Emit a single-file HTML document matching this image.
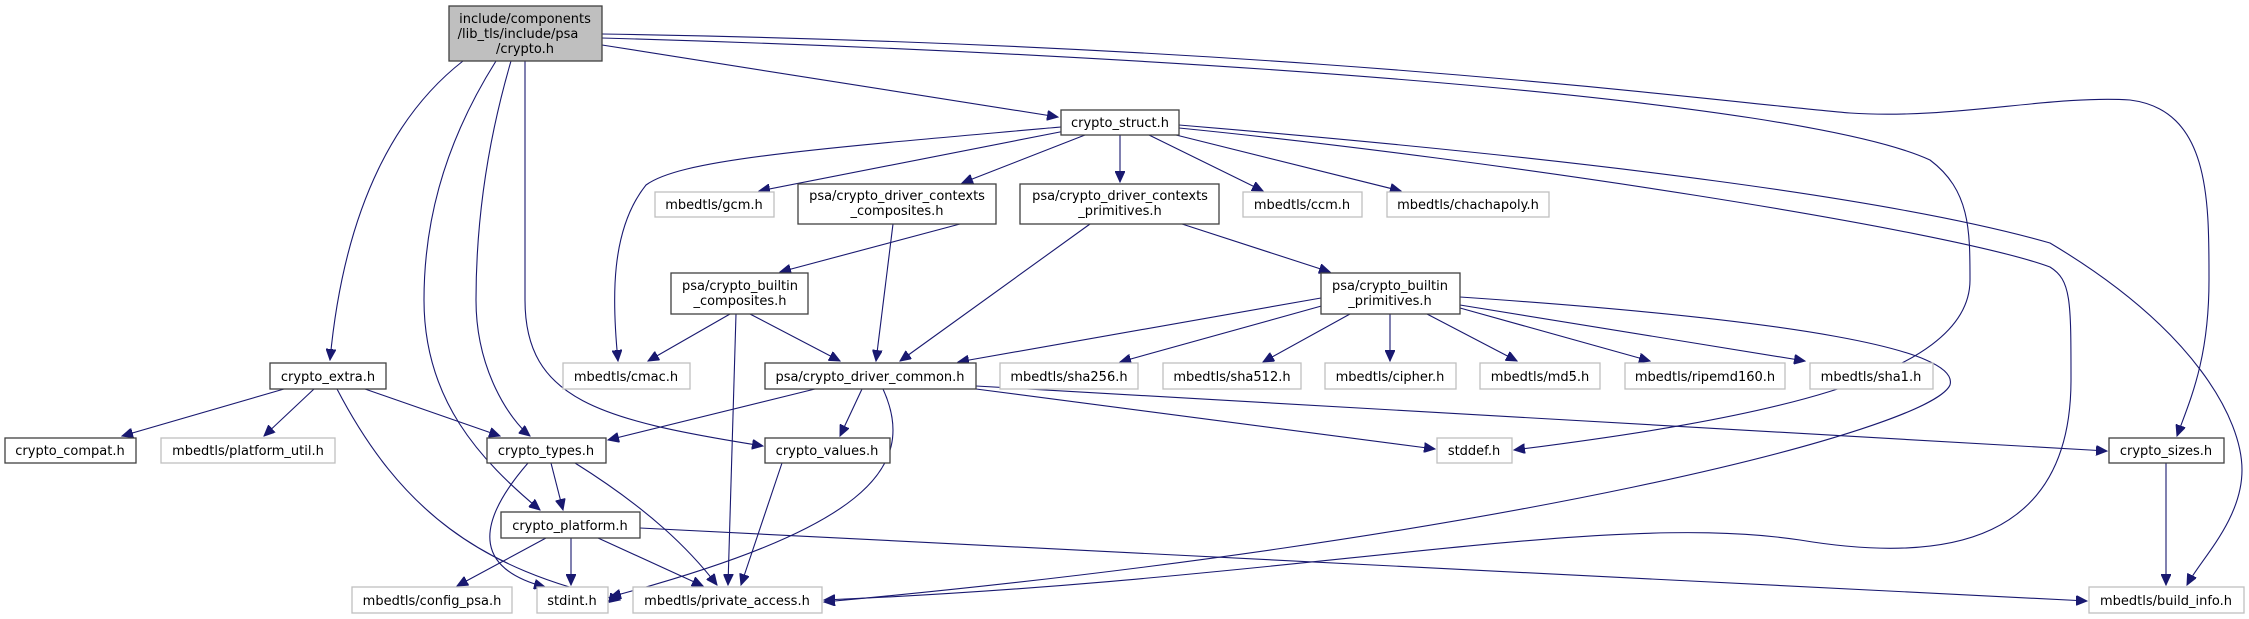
<!DOCTYPE html>
<html><head><meta charset="utf-8"><style>
html,body{margin:0;padding:0;background:#fff;}
svg{display:block}
text{font-family:"DejaVu Sans","Liberation Sans",sans-serif;font-size:13px;fill:#000;text-anchor:middle}
.n{fill:#fff;stroke:#404040;stroke-width:1.3}
.g{fill:#fff;stroke:#bfbfbf;stroke-width:1.3}
.e path{fill:none;stroke:#191970;stroke-width:1.1}
</style></head><body>
<svg width="2249" height="619" viewBox="0 0 2249 619" xmlns="http://www.w3.org/2000/svg">
<defs><marker id="a" markerUnits="userSpaceOnUse" markerWidth="12" markerHeight="10" refX="11" refY="5" orient="auto"><path d="M0,0 L11,5 L0,10 z" fill="#191970" stroke="#191970"/></marker></defs>
<g class="e">
<path marker-end="url(#a)" d="M463,61 C400,110 345,200 330,360"/>
<path marker-end="url(#a)" d="M496,61 C440,150 424,230 424,300 C424,400 480,460 540,510"/>
<path marker-end="url(#a)" d="M511,61 C485,150 476,230 476,300 C476,370 510,420 530,436"/>
<path marker-end="url(#a)" d="M525,61 L525,300 C525,400 600,420 763,446"/>
<path marker-end="url(#a)" d="M602,45 L1058,117"/>
<path marker-end="url(#a)" d="M602,38 C1200,55 1800,100 1930,160 C1970,190 1970,230 1970,280 C1970,380 1750,420 1514,450"/>
<path marker-end="url(#a)" d="M602,34 C1300,45 1700,100 1850,113 C1950,120 2050,95 2130,100 C2210,110 2209,200 2209,280 C2209,360 2190,400 2177,436"/>
<path marker-end="url(#a)" d="M1061,127 C800,150 680,160 646,185 C610,230 612,300 618,361"/>
<path marker-end="url(#a)" d="M1065,131 L759,191"/>
<path marker-end="url(#a)" d="M1085,135 L962,183"/>
<path marker-end="url(#a)" d="M1120,135 L1120,182"/>
<path marker-end="url(#a)" d="M1149,135 L1263,191"/>
<path marker-end="url(#a)" d="M1176,135 L1401,191"/>
<path marker-end="url(#a)" d="M1179,128 C1500,160 1950,230 2050,267 C2071,280 2071,300 2071,380 C2071,540 1950,565 1800,540 C1600,510 1300,580 824,600"/>
<path marker-end="url(#a)" d="M1179,125 C1600,160 1900,200 2050,243 C2196,330 2242,420 2242,470 C2242,520 2200,560 2187,585"/>
<path marker-end="url(#a)" d="M960,224 L780,272"/>
<path marker-end="url(#a)" d="M893,224 L876,361"/>
<path marker-end="url(#a)" d="M1090,224 L900,361"/>
<path marker-end="url(#a)" d="M1182,224 L1330,272"/>
<path marker-end="url(#a)" d="M730,314 L648,361"/>
<path marker-end="url(#a)" d="M750,314 L840,361"/>
<path marker-end="url(#a)" d="M736,314 L728,585"/>
<path marker-end="url(#a)" d="M1321,298 L958,362"/>
<path marker-end="url(#a)" d="M1325,305 L1120,362"/>
<path marker-end="url(#a)" d="M1350,314 L1263,362"/>
<path marker-end="url(#a)" d="M1390,314 L1390,361"/>
<path marker-end="url(#a)" d="M1427,314 L1517,361"/>
<path marker-end="url(#a)" d="M1460,308 L1650,361"/>
<path marker-end="url(#a)" d="M1460,305 L1805,361"/>
<path marker-end="url(#a)" d="M1460,297 C1800,320 1960,350 1950,385 C1930,430 1500,540 824,602"/>
<path marker-end="url(#a)" d="M815,389 L608,440"/>
<path marker-end="url(#a)" d="M862,389 L840,436"/>
<path marker-end="url(#a)" d="M883,389 C920,470 860,530 610,597"/>
<path marker-end="url(#a)" d="M976,389 L1435,449"/>
<path marker-end="url(#a)" d="M976,386 L2107,451"/>
<path marker-end="url(#a)" d="M284,389 L122,436"/>
<path marker-end="url(#a)" d="M314,389 L264,436"/>
<path marker-end="url(#a)" d="M365,389 L500,436"/>
<path marker-end="url(#a)" d="M337,389 C400,510 480,570 620,600"/>
<path marker-end="url(#a)" d="M528,463 C470,530 480,570 545,587"/>
<path marker-end="url(#a)" d="M551,463 L563,510"/>
<path marker-end="url(#a)" d="M575,463 C650,510 690,550 717,585"/>
<path marker-end="url(#a)" d="M546,538 L457,586"/>
<path marker-end="url(#a)" d="M571,538 L571,585"/>
<path marker-end="url(#a)" d="M598,538 L703,586"/>
<path marker-end="url(#a)" d="M640,528 L2087,601"/>
<path marker-end="url(#a)" d="M782,463 L741,585"/>
<path marker-end="url(#a)" d="M2166,463 L2166,585"/>
</g>
<rect x="449" y="6" width="153" height="55" fill="#bfbfbf" stroke="#404040" stroke-width="1.3"/>
<text x="525" y="23">include/components</text><text x="518" y="38">/lib_tls/include/psa</text><text x="525" y="53">/crypto.h</text>

<rect class="n" x="1061" y="110" width="118" height="25"/><text x="1120" y="127">crypto_struct.h</text>
<rect class="g" x="655" y="192" width="119" height="25"/><text x="714" y="209">mbedtls/gcm.h</text>
<rect class="n" x="798" y="184" width="198" height="40"/><text x="897" y="200">psa/crypto_driver_contexts</text><text x="897" y="215">_composites.h</text>
<rect class="n" x="1020" y="184" width="199" height="40"/><text x="1120" y="200">psa/crypto_driver_contexts</text><text x="1120" y="215">_primitives.h</text>
<rect class="g" x="1243" y="192" width="119" height="25"/><text x="1302" y="209">mbedtls/ccm.h</text>
<rect class="g" x="1387" y="192" width="162" height="25"/><text x="1468" y="209">mbedtls/chachapoly.h</text>

<rect class="n" x="671" y="273" width="137" height="41"/><text x="740" y="290">psa/crypto_builtin</text><text x="740" y="305">_composites.h</text>
<rect class="n" x="1321" y="273" width="139" height="41"/><text x="1390" y="290">psa/crypto_builtin</text><text x="1390" y="305">_primitives.h</text>

<rect class="n" x="270" y="363" width="116" height="26"/><text x="328" y="381">crypto_extra.h</text>
<rect class="g" x="563" y="363" width="127" height="26"/><text x="626" y="381">mbedtls/cmac.h</text>
<rect class="n" x="765" y="363" width="211" height="26"/><text x="870" y="381">psa/crypto_driver_common.h</text>
<rect class="g" x="1000" y="363" width="138" height="26"/><text x="1069" y="381">mbedtls/sha256.h</text>
<rect class="g" x="1163" y="363" width="138" height="26"/><text x="1232" y="381">mbedtls/sha512.h</text>
<rect class="g" x="1325" y="363" width="131" height="26"/><text x="1390" y="381">mbedtls/cipher.h</text>
<rect class="g" x="1480" y="363" width="120" height="26"/><text x="1540" y="381">mbedtls/md5.h</text>
<rect class="g" x="1625" y="363" width="160" height="26"/><text x="1705" y="381">mbedtls/ripemd160.h</text>
<rect class="g" x="1810" y="363" width="123" height="26"/><text x="1871" y="381">mbedtls/sha1.h</text>

<rect class="n" x="5" y="438" width="131" height="25"/><text x="70" y="455">crypto_compat.h</text>
<rect class="g" x="161" y="438" width="174" height="25"/><text x="248" y="455">mbedtls/platform_util.h</text>
<rect class="n" x="487" y="438" width="119" height="25"/><text x="546" y="455">crypto_types.h</text>
<rect class="n" x="765" y="438" width="125" height="25"/><text x="827" y="455">crypto_values.h</text>
<rect class="g" x="1437" y="438" width="75" height="25"/><text x="1474" y="455">stddef.h</text>
<rect class="n" x="2109" y="438" width="115" height="25"/><text x="2166" y="455">crypto_sizes.h</text>

<rect class="n" x="501" y="512" width="139" height="26"/><text x="570" y="530">crypto_platform.h</text>

<rect class="g" x="352" y="587" width="160" height="26"/><text x="432" y="605">mbedtls/config_psa.h</text>
<rect class="g" x="537" y="587" width="71" height="26"/><text x="572" y="605">stdint.h</text>
<rect class="g" x="633" y="587" width="189" height="26"/><text x="727" y="605">mbedtls/private_access.h</text>
<rect class="g" x="2089" y="587" width="155" height="26"/><text x="2166" y="605">mbedtls/build_info.h</text>
</svg>
</body></html>
